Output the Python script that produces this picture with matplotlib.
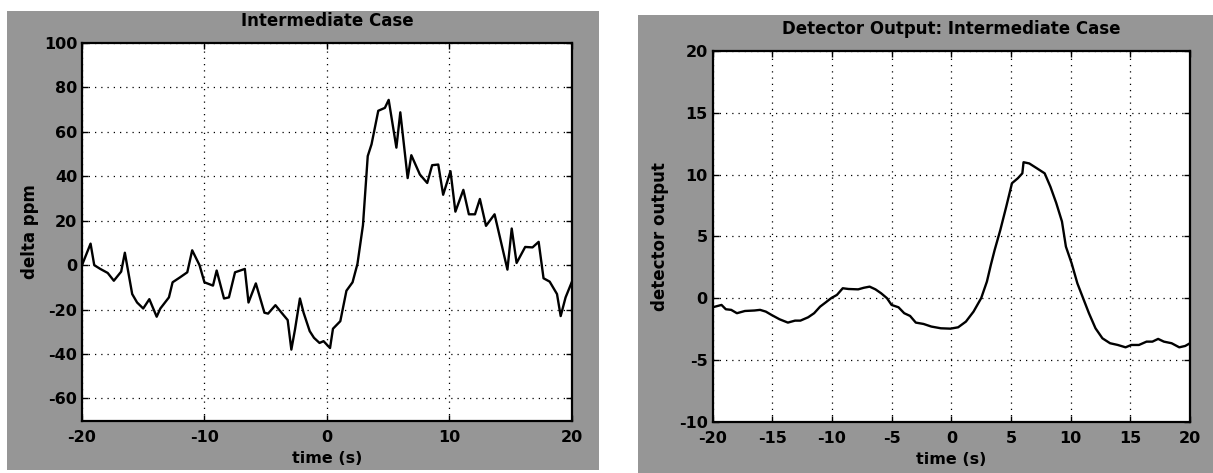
import matplotlib
matplotlib.use("Agg")
import matplotlib.pyplot as plt
from matplotlib.patches import Rectangle

# ---- data ----
t_left = [-20.0, -19.3, -19.0, -18.5, -17.9, -17.4, -16.8, -16.5, -15.9, -15.5,
          -15.0, -14.5, -13.9, -13.6, -12.9, -12.6, -12.0, -11.4, -11.0, -10.4,
          -10.0, -9.3, -9.0, -8.4, -8.0, -7.5, -6.7, -6.4, -5.8, -5.1,
          -4.8, -4.2, -3.7, -3.2, -2.9, -2.6, -2.2, -1.9, -1.4, -1.05,
          -0.6, -0.27, 0.26, 0.5, 1.1, 1.6, 2.1, 2.5, 2.95, 3.34,
          3.65, 4.2, 4.74, 5.05, 5.68, 6.0, 6.6, 6.9, 7.6, 8.2,
          8.6, 9.1, 9.5, 10.1, 10.5, 11.15, 11.6, 12.1, 12.5, 13.0,
          13.7, 14.75, 15.1, 15.5, 16.2, 16.8, 17.3, 17.7, 18.2, 18.8,
          19.1, 19.5, 20.0]
ppm_left = [0.0, 9.7, 0.0, -1.7, -3.5, -7.0, -2.9, 5.6, -13.0, -16.8,
            -19.5, -15.3, -23.2, -19.5, -14.5, -7.7, -5.5, -3.2, 6.7, 0.0,
            -7.7, -9.2, -2.4, -15.0, -14.5, -3.2, -1.7, -16.8, -8.2, -21.4,
            -21.8, -18.0, -21.4, -24.7, -38.0, -28.9, -15.0, -21.4, -29.7, -32.7,
            -35.0, -34.2, -37.3, -28.6, -25.2, -11.5, -7.7, 0.6, 18.0, 49.1,
            54.4, 69.5, 70.8, 74.4, 52.9, 68.8, 39.2, 49.5, 40.8, 37.0,
            45.0, 45.3, 31.7, 42.3, 24.1, 33.9, 22.9, 22.9, 29.8, 17.7,
            22.9, -2.0, 16.5, 1.0, 8.2, 8.0, 10.5, -5.9, -7.4, -13.0,
            -22.9, -14.5, -7.7]

t_right = [-20.0, -19.26, -18.9, -18.45, -17.97, -17.3, -16.5, -16.03, -15.55, -15.07,
           -14.4, -13.7, -13.1, -12.65, -12.0, -11.5, -11.0, -10.55, -10.07, -9.59,
           -9.1, -8.62, -7.81, -7.33, -6.85, -6.36, -5.88, -5.4, -5.01, -4.43,
           -3.95, -3.46, -2.98, -2.33, -1.68, -0.88, -0.07, 0.57, 1.22, 1.86,
           2.5, 2.98, 3.31, 3.63, 4.1, 4.6, 5.08, 5.57, 5.95, 6.05,
           6.53, 7.18, 7.82, 8.3, 8.79, 9.27, 9.6, 10.08, 10.56, 11.1,
           11.53, 12.08, 12.66, 13.3, 13.95, 14.6, 15.08, 15.72, 16.36, 16.85,
           17.33, 17.81, 18.46, 19.1, 19.6, 20.0]
det_right = [-0.74, -0.55, -0.9, -0.95, -1.22, -1.04, -1.0, -0.95, -1.09, -1.36,
             -1.71, -1.98, -1.82, -1.82, -1.55, -1.22, -0.69, -0.36, 0.0, 0.26,
             0.8, 0.74, 0.71, 0.84, 0.93, 0.71, 0.39, 0.0, -0.55, -0.74,
             -1.22, -1.44, -1.98, -2.09, -2.3, -2.44, -2.47, -2.36, -1.9, -1.09,
             0.0, 1.34, 2.69, 3.9, 5.5, 7.4, 9.3, 9.7, 10.1, 11.0,
             10.9, 10.5, 10.1, 9.02, 7.7, 6.2, 4.17, 2.82, 1.2, -0.15,
             -1.22, -2.44, -3.25, -3.65, -3.79, -3.98, -3.79, -3.79, -3.52, -3.52,
             -3.3, -3.52, -3.65, -3.98, -3.87, -3.65]

left_xticks = [-20, -10, 0, 10, 20]
left_yticks = [-60, -40, -20, 0, 20, 40, 60, 80, 100]
right_xticks = [-20, -15, -10, -5, 0, 5, 10, 15, 20]
right_yticks = [-10, -5, 0, 5, 10, 15, 20]

# ---- figure ----
W, H = 1213, 473
plt.rcParams["font.family"] = ["DejaVu Sans"]
plt.rcParams["font.weight"] = "bold"
plt.rcParams["axes.unicode_minus"] = False

fig = plt.figure(figsize=(W / 100, H / 100), dpi=100)
fig.patch.set_facecolor("white")

panel_gray = "#969696"


def px_rect(x0, y0, x1, y1):
    return Rectangle((x0 / W, 1 - y1 / H), (x1 - x0) / W, (y1 - y0) / H,
                     transform=fig.transFigure, facecolor=panel_gray,
                     edgecolor="none", zorder=-10)


fig.patches.append(px_rect(7, 11, 599, 470))
fig.patches.append(px_rect(638, 15, 1213, 473))


def px_axes(x0, y0, x1, y1):
    return fig.add_axes([x0 / W, 1 - y1 / H, (x1 - x0) / W, (y1 - y0) / H])


def style(ax, x0, y0, x1, y1, title, xlabel, ylabel, ylab_x):
    ax.set_facecolor("white")
    for s in ax.spines.values():
        s.set_linewidth(1.6)
        s.set_color("black")
    ax.grid(True, color="black", linestyle=(0, (1, 4)), linewidth=0.9)
    ax.tick_params(direction="in", top=True, right=True, length=4, width=1,
                   labelsize=11.5, colors="black")
    ax.tick_params(axis="y", pad=3.5)
    ax.tick_params(axis="x", pad=7)
    for lab in ax.get_xticklabels() + ax.get_yticklabels():
        lab.set_fontweight("bold")
    h = y1 - y0
    ax.set_title(title, fontsize=12, fontweight="bold", pad=0,
                 y=1 + 22 / h, va="center")
    ax.set_xlabel(xlabel, fontsize=11.5, fontweight="bold")
    ax.xaxis.set_label_coords(0.5, -(37.5 / h))
    ax.xaxis.label.set_va("center")
    ax.set_ylabel(ylabel, fontsize=12, fontweight="bold")
    ax.yaxis.set_label_coords((ylab_x - x0) / (x1 - x0), 0.5)
    ax.yaxis.label.set_va("center")


# left panel
ax1 = px_axes(82, 43, 571.7, 420.7)
ax1.plot(t_left, ppm_left, color="black", linewidth=1.7)
ax1.set_xlim(-20, 20)
ax1.set_ylim(-70, 100)
ax1.set_xticks(left_xticks)
ax1.set_yticks(left_yticks)
style(ax1, 82, 43, 571.7, 420.7, "Intermediate Case", "time (s)", "delta ppm", 30)

# right panel
ax2 = px_axes(712.7, 51, 1190, 421.7)
ax2.plot(t_right, det_right, color="black", linewidth=1.7)
ax2.set_xlim(-20, 20)
ax2.set_ylim(-10, 20)
ax2.set_xticks(right_xticks)
ax2.set_yticks(right_yticks)
style(ax2, 712.7, 51, 1190, 421.7, "Detector Output: Intermediate Case",
      "time (s)", "detector output", 660)

fig.savefig("out.png", dpi=100, facecolor=fig.get_facecolor())
